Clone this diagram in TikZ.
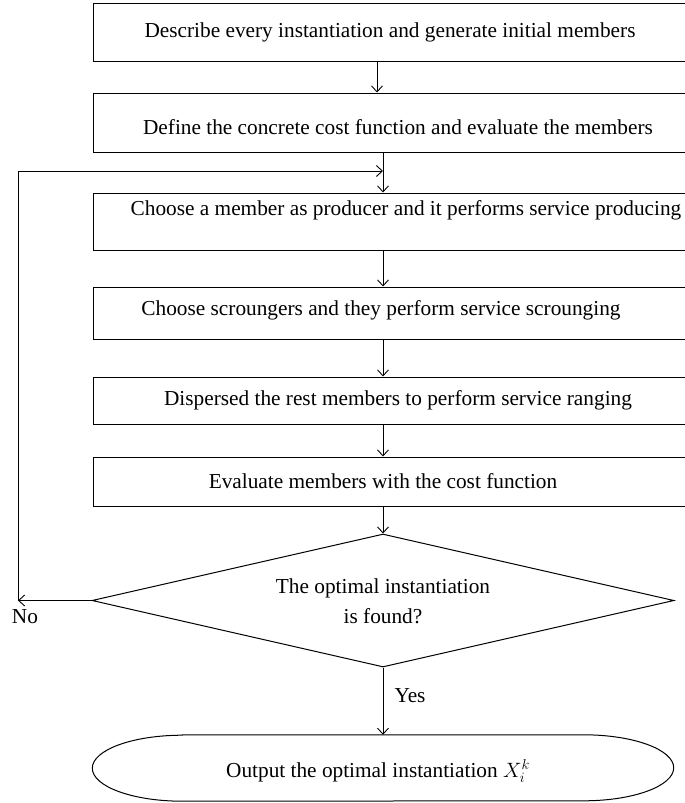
\documentclass[tikz,border=0pt]{standalone}
\usepackage{fontspec}
\setmainfont{Liberation Serif}
\usetikzlibrary{shapes.geometric,arrows.meta}
\begin{document}
\begin{tikzpicture}[x=1pt,y=-1pt,
  box/.style={draw, line width=1pt, rectangle, minimum width=600pt, inner sep=0pt},
  lbl/.style={anchor=base, inner sep=0pt, font=\fontsize{21.3}{25}\selectfont},
  arr/.style={-{Straight Barb[length=6pt,width=11pt]}, line width=0.9pt}]
\useasboundingbox (0,0) rectangle (685,803);
% boxes
\node[box, minimum height=58pt] (b1) at (393,32) {};
\node[box, minimum height=59pt] (b2) at (393,122.5) {};
\node[box, minimum height=57pt] (b3) at (393,221.5) {};
\node[box, minimum height=52pt] (b4) at (393,313) {};
\node[box, minimum height=47pt] (b5) at (393,400.5) {};
\node[box, minimum height=49pt] (b6) at (393,481.5) {};
\node[draw, diamond, line width=1pt, minimum width=582pt, minimum height=133pt, inner sep=0pt] (d) at (383,600.5) {};
\node[minimum width=581pt, minimum height=66pt, inner sep=0pt] (t) at (383,768) {};
\draw[line width=1pt] ([xshift=90pt]t.north west) -- ([xshift=-90pt]t.north east)
  arc[start angle=90, end angle=-90, x radius=90pt, y radius=33pt]
  -- ([xshift=90pt]t.south west)
  arc[start angle=270, end angle=90, x radius=90pt, y radius=33pt] -- cycle;
% texts
\node[lbl] (t1) at (390,37) {Describe every instantiation and generate initial members};
\node[lbl] (t2) at (398,134) {Define the concrete cost function and evaluate the members};
\node[lbl] (t3) at (406,215) {Choose a member as producer and it performs service producing};
\node[lbl] (t4) at (381,315) {Choose scroungers and they perform service scrounging};
\node[lbl] (t5) at (398,405) {Dispersed the rest members to perform service ranging};
\node[lbl] (t6) at (383,488) {Evaluate members with the cost function};
\node[lbl] (d1) at (383,593) {The optimal instantiation};
\node[lbl] (d2) at (383,623) {is found?};
\node[lbl] (no) at (25,623) {No};
\node[lbl] (yes) at (410,702) {Yes};
\node[lbl] (to) at (378,777) {Output the optimal instantiation $X_i^k$};
% connectors
\coordinate (c1) at (377,0);
\coordinate (cx) at (383,0);
\coordinate (lp) at (18,171);
\coordinate (nl) at (d.west -| lp);
\draw[arr] (b1.south -| c1) -- (b2.north -| c1);
\draw[arr] (b2.south -| cx) -- (b3.north -| cx);
\draw[arr] (b3.south -| cx) -- (b4.north -| cx);
\draw[arr] (b4.south -| cx) -- (b5.north -| cx);
\draw[arr] (b5.south -| cx) -- (b6.north -| cx);
\draw[arr] (b6.south -| cx) -- (d.north);
\draw[arr] (d.south) -- (t.north);
\draw[arr] (d.west) -- (nl);
\draw[arr] (nl) -- (lp) -- (lp -| cx);
\end{tikzpicture}
\end{document}
